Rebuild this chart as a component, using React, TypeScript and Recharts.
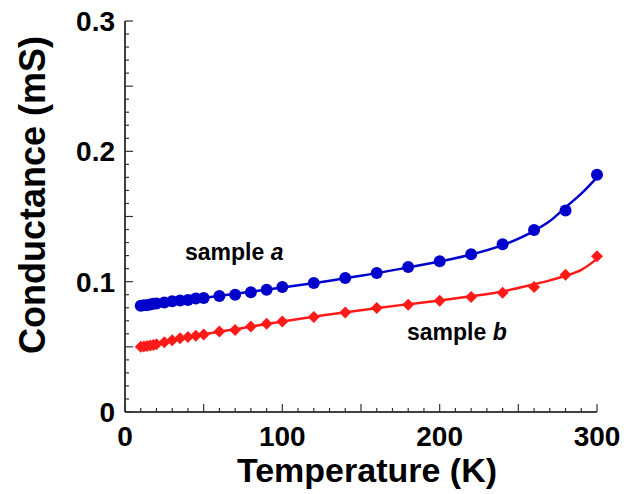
import React from "react";
import {
  ComposedChart,
  Line,
  Scatter,
  XAxis,
  YAxis,
} from "recharts";

// measured temperatures (K)
const temps = [10, 12, 14, 16, 18, 20, 25, 30, 35, 40, 45, 50, 60, 70, 80, 90, 100, 120, 140, 160, 180, 200, 220, 240, 260, 280, 300];
// conductance (mS)
const sampleA = [0.0815, 0.082, 0.082, 0.0825, 0.083, 0.0832, 0.084, 0.085, 0.0855, 0.086, 0.087, 0.0875, 0.089, 0.09, 0.0918, 0.0938, 0.0959, 0.099, 0.1028, 0.1067, 0.1113, 0.1156, 0.121, 0.1287, 0.1397, 0.1546, 0.182];
const sampleB = [0.05, 0.0503, 0.0507, 0.051, 0.0515, 0.052, 0.0535, 0.055, 0.0565, 0.0575, 0.0585, 0.0595, 0.0618, 0.063, 0.0656, 0.0677, 0.0695, 0.0728, 0.0764, 0.0797, 0.0823, 0.0854, 0.0882, 0.0915, 0.096, 0.1054, 0.1195];

// fitted curves
const fitTemps = [10, 30, 50, 75, 100, 125, 150, 175, 200, 220, 240, 260, 270, 280, 290, 300];
const fitA = [0.0815, 0.0848, 0.0875, 0.0915, 0.0955, 0.0998, 0.1045, 0.1098, 0.1155, 0.1208, 0.128, 0.139, 0.1465, 0.157, 0.1675, 0.18];
const fitB = [0.05, 0.055, 0.0595, 0.0645, 0.0695, 0.074, 0.078, 0.082, 0.0855, 0.0888, 0.0925, 0.098, 0.101, 0.1045, 0.109, 0.1175];

const xLabels = [0, 100, 200, 300];
const yLabels = [0, 0.1, 0.2, 0.3];
const xTicks = Array.from({ length: 31 }, (_, i) => i * 10);
const yTicks = Array.from({ length: 31 }, (_, i) => i / 100);

const pointsA = temps.map((T, i) => ({ T, G: sampleA[i] }));
const pointsB = temps.map((T, i) => ({ T, G: sampleB[i] }));
const curveA = fitTemps.map((T, i) => ({ T, G: fitA[i] }));
const curveB = fitTemps.map((T, i) => ({ T, G: fitB[i] }));

const BLUE = "#0000cc";
const RED = "#ff1a1a";
const FONT = "'Liberation Sans', Arial, sans-serif";
const TICK = "#333";

const isMajorX = (v: number) => v % 50 === 0;
const isMajorY = (v: number) => Math.round(v * 100) % 5 === 0;

const BottomTick = (props: any) => {
  const { x, y, payload } = props;
  const v = payload.value;
  const len = isMajorX(v) ? 8 : 4;
  return (
    <g>
      <line x1={x} y1={y} x2={x} y2={y - len} stroke={TICK} strokeWidth={1.2} />
      {xLabels.includes(v) && (
        <text x={x} y={y + 34} textAnchor="middle" fontFamily={FONT} fontWeight="bold" fontSize={28} fill="#000">
          {v}
        </text>
      )}
    </g>
  );
};

const TopTick = (props: any) => {
  const { x, y, payload } = props;
  const len = isMajorX(payload.value) ? 8 : 4;
  return <line x1={x} y1={y} x2={x} y2={y + len} stroke={TICK} strokeWidth={1.2} />;
};

const LeftTick = (props: any) => {
  const { x, y, payload } = props;
  const v = payload.value;
  const len = isMajorY(v) ? 8 : 4;
  const lab = yLabels.find((l) => Math.abs(l - v) < 1e-6);
  return (
    <g>
      <line x1={x} y1={y} x2={x + len} y2={y} stroke={TICK} strokeWidth={1.2} />
      {lab !== undefined && (
        <text x={x - 10} y={y + 10} textAnchor="end" fontFamily={FONT} fontWeight="bold" fontSize={28} fill="#000">
          {lab === 0 ? "0" : lab.toFixed(1)}
        </text>
      )}
    </g>
  );
};

const RightTick = (props: any) => {
  const { x, y, payload } = props;
  const len = isMajorY(payload.value) ? 8 : 4;
  return <line x1={x} y1={y} x2={x - len} y2={y} stroke={TICK} strokeWidth={1.2} />;
};

const Dot = (props: any) => <circle cx={props.cx} cy={props.cy} r={6} fill={BLUE} />;
const Diamond = (props: any) => {
  const { cx, cy } = props;
  const d = 6;
  return <polygon points={`${cx},${cy - d} ${cx + d},${cy} ${cx},${cy + d} ${cx - d},${cy}`} fill={RED} />;
};

const axisLine = { stroke: "#000", strokeWidth: 1.5 };

export default function App() {
  return (
    <div style={{ position: "absolute", left: 0, top: 0, width: 628, height: 494, background: "#fff" }}>
      <ComposedChart width={628} height={494} margin={{ top: 21, right: 31, left: 15, bottom: 22 }}>
        <XAxis
          dataKey="T"
          type="number"
          domain={[0, 300]}
          ticks={xTicks}
          interval={0}
          height={60}
          tickSize={0}
          tickMargin={0}
          tickLine={false}
          axisLine={axisLine}
          tick={<BottomTick />}
        />
        <XAxis
          xAxisId="top"
          orientation="top"
          dataKey="T"
          type="number"
          domain={[0, 300]}
          ticks={xTicks}
          interval={0}
          height={0}
          tickSize={0}
          tickMargin={0}
          tickLine={false}
          axisLine={axisLine}
          tick={<TopTick />}
        />
        <YAxis
          type="number"
          domain={[0, 0.3]}
          ticks={yTicks}
          interval={0}
          width={110}
          tickSize={0}
          tickMargin={0}
          tickLine={false}
          axisLine={axisLine}
          tick={<LeftTick />}
        />
        <YAxis
          yAxisId="right"
          orientation="right"
          type="number"
          domain={[0, 0.3]}
          ticks={yTicks}
          interval={0}
          width={0}
          tickSize={0}
          tickMargin={0}
          tickLine={false}
          axisLine={axisLine}
          tick={<RightTick />}
        />
        <Line data={curveA} dataKey="G" type="monotone" stroke={BLUE} strokeWidth={2.5} dot={false} isAnimationActive={false} />
        <Line data={curveB} dataKey="G" type="monotone" stroke={RED} strokeWidth={2.5} dot={false} isAnimationActive={false} />
        <Scatter data={pointsA} dataKey="G" shape={<Dot />} isAnimationActive={false} />
        <Scatter data={pointsB} dataKey="G" shape={<Diamond />} isAnimationActive={false} />
      </ComposedChart>
      <svg width={628} height={494} style={{ position: "absolute", left: 0, top: 0, pointerEvents: "none" }}>
        <text x={367} y={482} textAnchor="middle" fontFamily={FONT} fontWeight="bold" fontSize={34} fill="#000">
          Temperature (K)
        </text>
        <text
          x={45}
          y={195}
          transform="rotate(-90 45 195)"
          textAnchor="middle"
          fontFamily={FONT}
          fontWeight="bold"
          fontSize={36}
          fill="#000"
        >
          Conductance (mS)
        </text>
        <text x={185} y={260} fontFamily={FONT} fontWeight="bold" fontSize={23} fill="#000">
          sample <tspan fontStyle="italic">a</tspan>
        </text>
        <text x={407} y={340} fontFamily={FONT} fontWeight="bold" fontSize={23} fill="#000">
          sample <tspan fontStyle="italic">b</tspan>
        </text>
      </svg>
    </div>
  );
}
